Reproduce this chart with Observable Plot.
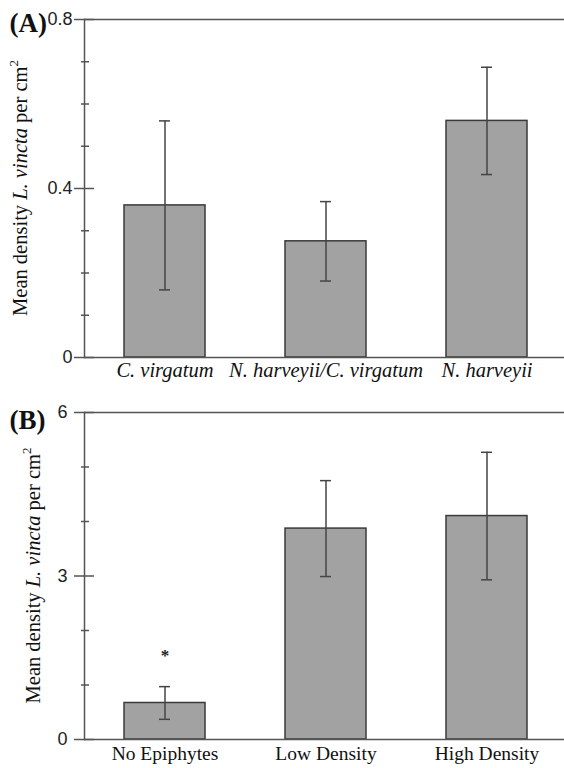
<!DOCTYPE html>
<html>
<head>
<meta charset="utf-8">
<script src="https://cdn.jsdelivr.net/npm/d3@7"></script>
<script src="https://cdn.jsdelivr.net/npm/@observablehq/plot@0.6"></script>
<style>
  html, body { margin: 0; padding: 0; background: #fff; }
  #chart svg { display: block; }
</style>
</head>
<body>
<div id="chart"></div>
<script>
// Panel A data
const catsA = ["C. virgatum", "N. harveyii/C. virgatum", "N. harveyii"];
const meansA = [0.36, 0.275, 0.56];
const errA = [0.20, 0.094, 0.127];
const majorA = [0, 0.4, 0.8];
const minorA = [0.1, 0.2, 0.3, 0.5, 0.6, 0.7];

// Panel B data
const catsB = ["No Epiphytes", "Low Density", "High Density"];
const meansB = [0.67, 3.87, 4.10];
const errB = [0.30, 0.88, 1.17];
const majorB = [0, 3, 6];
const minorB = [1, 2, 4, 5];
const markB = [{cat: "No Epiphytes", y: 1.54, label: "*"}];

const W = 564, H = 384, ML = 84;
const AXIS = "#555";

function panel({cats, means, errs, major, minor, ymax, fmt, mt, mb, tag, tagDy, italic, xdy, xfs, tickDx, labelX, marks}) {
  const data = cats.map((c, i) => ({cat: c, mean: means[i], lo: means[i] - errs[i], hi: means[i] + errs[i]}));
  const plot = Plot.plot({
    width: W, height: H,
    marginLeft: ML, marginRight: 0, marginTop: mt, marginBottom: mb,
    style: {fontFamily: "Liberation Serif", background: "#fff"},
    x: {domain: cats, range: [ML, 567], paddingInner: 0.5, paddingOuter: 0.245, axis: null},
    y: {domain: [0, ymax], axis: null},
    marks: [
      Plot.barY(data, {x: "cat", y: "mean", fill: "#a2a2a2", stroke: "#3a3a3a", strokeWidth: 1.5}),
      Plot.ruleX(data, {x: "cat", y1: "lo", y2: "hi", stroke: "#444", strokeWidth: 1.5}),
      Plot.tickY(data, {x: "cat", y: "lo", stroke: "#444", strokeWidth: 1.5, inset: 35}),
      Plot.tickY(data, {x: "cat", y: "hi", stroke: "#444", strokeWidth: 1.5, inset: 35}),
      Plot.ruleY([0, ymax], {stroke: AXIS, strokeWidth: 1.5}),
      Plot.frame({anchor: "left", stroke: AXIS, strokeWidth: 1.5}),
      Plot.tickY(major, {y: d => d, stroke: AXIS, strokeWidth: 1.5, insetLeft: -10, insetRight: W - ML - 10}),
      Plot.tickY(minor, {y: d => d, stroke: AXIS, strokeWidth: 1.5, insetLeft: -3, insetRight: W - ML - 5}),
      Plot.text(major, {y: d => d, text: d => fmt(d), frameAnchor: "left", textAnchor: "end", dx: tickDx,
        fontFamily: "Liberation Sans", fontSize: 18, fill: "#222"}),
      Plot.text(cats, {x: d => d, text: d => d, frameAnchor: "bottom", lineAnchor: "top", dy: xdy,
        fontSize: xfs, fontStyle: italic ? "italic" : "normal", fill: "#111"}),
      Plot.text([tag], {text: d => d, frameAnchor: "top-left", textAnchor: "start", lineAnchor: "middle",
        dx: -75, dy: tagDy, fontSize: 27, fontWeight: "bold", fill: "#111"}),
      ...(marks ? [Plot.text(marks, {x: "cat", y: "y", text: "label", fontSize: 17, fontWeight: "bold", fill: "#222", lineAnchor: "middle"})] : [])
    ]
  });
  // rotated y-axis title with italic species name and superscript
  const cy = mt + (H - mt - mb) / 2;
  const t = d3.select(plot).append("text")
    .attr("transform", `translate(${labelX},${cy}) rotate(-90)`)
    .attr("text-anchor", "middle")
    .attr("font-family", "Liberation Serif")
    .attr("font-size", 20.5)
    .attr("fill", "#111");
  t.append("tspan").text("Mean density ");
  t.append("tspan").attr("font-style", "italic").text("L. vincta");
  t.append("tspan").text(" per cm");
  t.append("tspan").attr("font-size", 13).attr("dy", -9).text("2");
  return plot;
}

const root = document.getElementById("chart");
root.appendChild(panel({
  cats: catsA, means: meansA, errs: errA, major: majorA, minor: minorA, ymax: 0.8,
  fmt: d => d === 0 ? "0" : d.toFixed(1), mt: 19, mb: 27, tag: "(A)", tagDy: 4,
  italic: true, xdy: 5, xfs: 20.5, tickDx: -12, labelX: 27
}));
root.appendChild(panel({
  cats: catsB, means: meansB, errs: errB, major: majorB, minor: minorB, ymax: 6,
  fmt: d => String(d), mt: 28, mb: 29, tag: "(B)", tagDy: 8,
  italic: false, xdy: 7, xfs: 19.5, tickDx: -17, labelX: 40, marks: markB
}));
</script>
</body>
</html>
